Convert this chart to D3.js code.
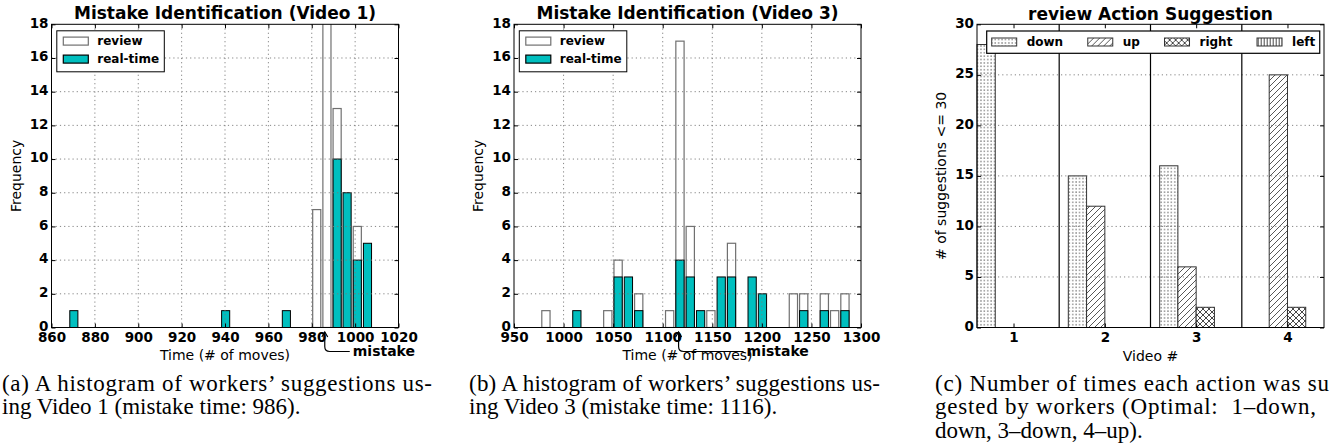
<!DOCTYPE html>
<html>
<head>
<meta charset="utf-8">
<script src="https://cdn.jsdelivr.net/npm/d3@7"></script>
<style>
  html, body { margin: 0; padding: 0; background: #fff; }
  svg { display: block; }
</style>
</head>
<body>
<svg id="chart" width="1331" height="445"></svg>
<script>
// ---------------- DATA ----------------
// Panel (a): Video 1 histogram (bin centers, counts)
const v1Centers  = [870.3, 940.3, 968.3, 982.3, 987.0, 991.7, 996.3, 1001.0, 1005.7];
const v1Review   = [0, 0, 0, 7, 21, 13, 0, 6, 0];
const v1Realtime = [1, 1, 1, 0, 0, 10, 8, 4, 5];
const v1Range    = [868, 1008];   // histogram data range (30 bins)
const v1Mistake  = 986;
const v1XTicks   = [860, 880, 900, 920, 940, 960, 980, 1000, 1020];
const v1YTicks   = [0, 2, 4, 6, 8, 10, 12, 14, 16, 18];

// Panel (b): Video 3 histogram
const v3Centers  = [982.2, 1013.4, 1044.6, 1055.0, 1065.4, 1075.8, 1107.0, 1117.4, 1127.8, 1138.2,
                    1148.6, 1159.0, 1169.4, 1190.2, 1200.6, 1231.8, 1242.2, 1263.0, 1273.4, 1283.8];
const v3Review   = [1, 0, 1, 4, 0, 2, 1, 17, 6, 0, 1, 0, 5, 0, 0, 2, 2, 2, 1, 2];
const v3Realtime = [0, 1, 0, 3, 3, 1, 0, 4, 3, 1, 0, 3, 3, 3, 2, 0, 1, 1, 0, 1];
const v3Range    = [977, 1289];
const v3Mistake  = 1116;
const v3XTicks   = [950, 1000, 1050, 1100, 1150, 1200, 1250, 1300];
const v3YTicks   = [0, 2, 4, 6, 8, 10, 12, 14, 16, 18];
const binCount   = 30;

// Panel (c): review action suggestions
const videos      = [1, 2, 3, 4];
const actions     = ["down", "up", "right", "left"];
const downCounts  = [28, 15, 16, 0];
const upCounts    = [0, 12, 6, 25];
const rightCounts = [0, 0, 2, 2];
const leftCounts  = [0, 0, 0, 0];
const cYTicks     = [0, 5, 10, 15, 20, 25, 30];

const histLegend  = ["review", "real-time"];

// ---------------- DRAWING ----------------
const svg = d3.select("#chart");
const FONT = "DejaVu Sans, sans-serif";
const CYAN = "#00bfbf";

const defs = svg.append("defs");
// hatch patterns
const pDots = defs.append("pattern").attr("id", "hDots").attr("patternUnits", "userSpaceOnUse")
  .attr("width", 3.4).attr("height", 3.4);
pDots.append("rect").attr("width", 3.4).attr("height", 3.4).attr("fill", "#fff");
pDots.append("rect").attr("x", 1.2).attr("y", 1.2).attr("width", 1.1).attr("height", 1.1).attr("fill", "#333");

const pDiag = defs.append("pattern").attr("id", "hDiag").attr("patternUnits", "userSpaceOnUse")
  .attr("width", 6).attr("height", 6);
pDiag.append("rect").attr("width", 6).attr("height", 6).attr("fill", "#fff");
pDiag.append("path").attr("d", "M0,6 L6,0 M-1.5,1.5 L1.5,-1.5 M4.5,7.5 L7.5,4.5")
  .attr("stroke", "#444").attr("stroke-width", 0.9);

const pCross = defs.append("pattern").attr("id", "hCross").attr("patternUnits", "userSpaceOnUse")
  .attr("width", 6).attr("height", 6);
pCross.append("rect").attr("width", 6).attr("height", 6).attr("fill", "#fff");
pCross.append("path").attr("d", "M0,6 L6,0 M-1.5,1.5 L1.5,-1.5 M4.5,7.5 L7.5,4.5 M0,0 L6,6 M-1.5,4.5 L1.5,7.5 M4.5,-1.5 L7.5,1.5")
  .attr("stroke", "#333").attr("stroke-width", 0.9);

const pVert = defs.append("pattern").attr("id", "hVert").attr("patternUnits", "userSpaceOnUse")
  .attr("width", 3).attr("height", 3);
pVert.append("rect").attr("width", 3).attr("height", 3).attr("fill", "#fff");
pVert.append("path").attr("d", "M1.5,0 L1.5,3").attr("stroke", "#333").attr("stroke-width", 0.9);

const hatchFor = { down: "url(#hDots)", up: "url(#hDiag)", right: "url(#hCross)", left: "url(#hVert)" };

function frameAndAxes(g, x, y, xTicks, yTicks, box, opts) {
  const { L, R, T, B } = box;
  // bottom axis
  const ax = g.append("g").attr("transform", `translate(0,${B})`)
    .call(d3.axisBottom(x).tickValues(xTicks).tickSize(-4).tickSizeOuter(0).tickPadding(5)
      .tickFormat(opts.xFormat || d3.format("d")));
  ax.select(".domain").remove();
  ax.selectAll("text").attr("font-family", FONT).attr("font-weight", "bold").attr("font-size", 13.5).attr("fill", "#000");
  ax.selectAll("line").attr("stroke", "#000");
  const at = g.append("g").attr("transform", `translate(0,${T})`)
    .call(d3.axisTop(x).tickValues(xTicks).tickSize(-4).tickSizeOuter(0).tickFormat(""));
  at.select(".domain").remove();
  at.selectAll("line").attr("stroke", "#000");
  // left axis
  const ay = g.append("g").attr("transform", `translate(${L},0)`)
    .call(d3.axisLeft(y).tickValues(yTicks).tickSize(-4).tickSizeOuter(0).tickPadding(3).tickFormat(d3.format("d")));
  ay.select(".domain").remove();
  ay.selectAll("text").attr("font-family", FONT).attr("font-weight", "bold").attr("font-size", 13.5)
    .attr("fill", "#000").attr("dy", "0.2em");
  ay.selectAll("line").attr("stroke", "#000");
  const ar = g.append("g").attr("transform", `translate(${R},0)`)
    .call(d3.axisRight(y).tickValues(yTicks).tickSize(-4).tickSizeOuter(0).tickFormat(""));
  ar.select(".domain").remove();
  ar.selectAll("line").attr("stroke", "#000");
  // frame
  g.append("rect").attr("x", L).attr("y", T).attr("width", R - L).attr("height", B - T)
    .attr("fill", "none").attr("stroke", "#000").attr("stroke-width", 1);
}

function grid(g, x, y, xTicks, yTicks, box, vertical) {
  const { L, R, T, B } = box;
  const gg = g.append("g").attr("stroke", "#777").attr("stroke-width", 0.9).attr("stroke-dasharray", "1.2,3");
  yTicks.filter(v => v > y.domain()[0] && v < y.domain()[1]).forEach(v => {
    gg.append("line").attr("x1", L).attr("x2", R).attr("y1", y(v)).attr("y2", y(v));
  });
  if (vertical) {
    xTicks.filter(v => v > x.domain()[0] && v < x.domain()[1]).forEach(v => {
      gg.append("line").attr("x1", x(v)).attr("x2", x(v)).attr("y1", T).attr("y2", B);
    });
  }
}

function histPanel(id, box, centers, review, realtime, range, xTicks, yTicks, title, mistake, textOffset) {
  const { L, R, T, B } = box;
  const g = svg.append("g");
  const x = d3.scaleLinear().domain([xTicks[0], xTicks[xTicks.length - 1]]).range([L, R]);
  const y = d3.scaleLinear().domain([0, yTicks[yTicks.length - 1]]).range([B, T]);
  const binW = (range[1] - range[0]) / binCount;
  const barW = binW * 0.8;

  defs.append("clipPath").attr("id", "clip" + id).append("rect")
    .attr("x", L).attr("y", T).attr("width", R - L).attr("height", B - T);
  const bars = g.append("g").attr("clip-path", `url(#clip${id})`);

  const rev = centers.map((c, i) => ({ c, v: review[i] })).filter(d => d.v > 0);
  bars.selectAll("rect.rev").data(rev).enter().append("rect")
    .attr("x", d => x(d.c - barW / 2)).attr("width", d => x(d.c + barW / 2) - x(d.c - barW / 2))
    .attr("y", d => y(d.v)).attr("height", d => y(0) - y(d.v))
    .attr("fill", "#fff").attr("stroke", "#707070").attr("stroke-width", 1.2);
  const rt = centers.map((c, i) => ({ c, v: realtime[i] })).filter(d => d.v > 0);
  bars.selectAll("rect.rt").data(rt).enter().append("rect")
    .attr("x", d => x(d.c - barW / 2)).attr("width", d => x(d.c + barW / 2) - x(d.c - barW / 2))
    .attr("y", d => y(d.v)).attr("height", d => y(0) - y(d.v))
    .attr("fill", CYAN).attr("stroke", "#000").attr("stroke-width", 1);

  grid(g, x, y, xTicks, yTicks, box, true);
  frameAndAxes(g, x, y, xTicks, yTicks, box, {});

  // title
  g.append("text").attr("x", (L + R) / 2).attr("y", 19).attr("text-anchor", "middle")
    .attr("font-family", FONT).attr("font-weight", "bold").attr("font-size", 17).text(title);
  // axis labels
  g.append("text").attr("x", (L + R) / 2).attr("y", 359.5).attr("text-anchor", "middle")
    .attr("font-family", FONT).attr("font-size", 14).text("Time (# of moves)");
  g.append("text").attr("transform", `translate(${L - 31},${(T + B) / 2}) rotate(-90)`)
    .attr("text-anchor", "middle").attr("font-family", FONT).attr("font-size", 14).text("Frequency");

  // legend
  const lg = g.append("g").attr("transform", `translate(${L + 5.3},${T + 6.5})`);
  lg.append("rect").attr("width", 107.5).attr("height", 41).attr("fill", "#fff").attr("stroke", "#000").attr("stroke-width", 1);
  histLegend.forEach((name, i) => {
    lg.append("rect").attr("x", 6.5).attr("y", 6.3 + i * 18).attr("width", 25).attr("height", 8)
      .attr("fill", i === 0 ? "#fff" : CYAN).attr("stroke", i === 0 ? "#707070" : "#000").attr("stroke-width", 1.2);
    lg.append("text").attr("x", 40.5).attr("y", 14.6 + i * 18).attr("font-family", FONT)
      .attr("font-weight", "bold").attr("font-size", 12).text(name);
  });

  // mistake annotation
  const mx = x(mistake), tipY = B + 4.5, lineY = 351.5, r = 5;
  const textX = mx + textOffset;
  g.append("path")
    .attr("d", `M${textX - 3},${lineY} L${mx + r},${lineY} Q${mx},${lineY} ${mx},${lineY - r} L${mx},${tipY}`)
    .attr("fill", "none").attr("stroke", "#000").attr("stroke-width", 1.2);
  g.append("path").attr("d", `M${mx - 3},${tipY + 5} L${mx},${tipY} L${mx + 3},${tipY + 5}`)
    .attr("fill", "none").attr("stroke", "#000").attr("stroke-width", 1.2);
  g.append("text").attr("x", textX).attr("y", 355.7).attr("font-family", FONT)
    .attr("font-weight", "bold").attr("font-size", 14).text("mistake");
}

histPanel("a", { L: 51.5, R: 398.5, T: 24.3, B: 327.5 }, v1Centers, v1Review, v1Realtime, v1Range,
  v1XTicks, v1YTicks, "Mistake Identification (Video 1)", v1Mistake, 28);
histPanel("b", { L: 514, R: 861, T: 24.3, B: 327.5 }, v3Centers, v3Review, v3Realtime, v3Range,
  v3XTicks, v3YTicks, "Mistake Identification (Video 3)", v3Mistake, 68);

// ---------- Panel (c) ----------
(function () {
  const box = { L: 977, R: 1324, T: 24.3, B: 327.5 };
  const { L, R, T, B } = box;
  const g = svg.append("g");
  const x = d3.scaleLinear().domain([videos[0] - 0.4, videos[videos.length - 1] + 0.4]).range([L, R]);
  const y = d3.scaleLinear().domain([0, cYTicks[cYTicks.length - 1]]).range([B, T]);
  const series = { down: downCounts, up: upCounts, right: rightCounts, left: leftCounts };
  const barW = 0.2;
  const data = [];
  actions.forEach((a, ai) => videos.forEach((v, vi) => {
    if (series[a][vi] > 0) data.push({ a, x0: v - 0.4 + ai * barW, val: series[a][vi] });
  }));
  g.selectAll("rect.bar").data(data).enter().append("rect")
    .attr("x", d => x(d.x0)).attr("width", d => x(d.x0 + barW) - x(d.x0))
    .attr("y", d => y(d.val)).attr("height", d => y(0) - y(d.val))
    .attr("fill", d => hatchFor[d.a]).attr("stroke", "#333").attr("stroke-width", 1);

  grid(g, x, y, videos, cYTicks, box, false);
  // separators between videos
  videos.slice(0, -1).forEach(v => {
    g.append("line").attr("x1", x(v + 0.5)).attr("x2", x(v + 0.5)).attr("y1", T).attr("y2", B)
      .attr("stroke", "#000").attr("stroke-width", 1.2);
  });
  frameAndAxes(g, x, y, videos, cYTicks, box, {});

  g.append("text").attr("x", (L + R) / 2).attr("y", 19.5).attr("text-anchor", "middle")
    .attr("font-family", FONT).attr("font-weight", "bold").attr("font-size", 17).text("review Action Suggestion");
  g.append("text").attr("x", (L + R) / 2).attr("y", 361).attr("text-anchor", "middle")
    .attr("font-family", FONT).attr("font-size", 14).text("Video #");
  g.append("text").attr("transform", `translate(${L - 31.5},${(T + B) / 2}) rotate(-90)`)
    .attr("text-anchor", "middle").attr("font-family", FONT).attr("font-size", 14).text("# of suggestions <= 30");

  // legend
  const lg = g.append("g").attr("transform", `translate(${L + 9.7},${T + 6.7})`);
  const box2 = lg.append("rect").attr("height", 22.3).attr("fill", "#fff").attr("stroke", "#000").attr("stroke-width", 1.2);
  let cx = 5;
  actions.forEach(a => {
    lg.append("rect").attr("x", cx).attr("y", 7).attr("width", 25).attr("height", 8)
      .attr("fill", hatchFor[a]).attr("stroke", "#333").attr("stroke-width", 1);
    const t = lg.append("text").attr("x", cx + 35).attr("y", 15.3).attr("font-family", FONT)
      .attr("font-weight", "bold").attr("font-size", 12).text(a);
    const w = t.node().getComputedTextLength();
    cx = cx + 35 + w + 24.6;
  });
  box2.attr("width", cx - 24.6 + 4.5);
})();

// ---------- Captions ----------
const captions = [
  { x: 2, lines: ["(a) A histogram of workers’ suggestions us-", "ing Video 1 (mistake time: 986)."], w: [430, null] },
  { x: 469, lines: ["(b) A histogram of workers’ suggestions us-", "ing Video 3 (mistake time: 1116)."], w: [411, null] },
  { x: 935, lines: ["(c) Number of times each action was su", "gested by workers (Optimal:  1–down,", "down, 3–down, 4–up)."], w: [394, 381, null] }
];
captions.forEach(c => {
  const cg = svg.append("g").attr("transform", `translate(${c.x},0)`);
  c.lines.forEach((ln, i) => {
    const t = cg.append("text").attr("x", 0).attr("y", 390.5 + i * 23.5)
      .attr("font-family", "Liberation Serif, Times New Roman, serif").attr("font-size", 23).attr("fill", "#000")
      .attr("xml:space", "preserve").text(ln);
    if (c.w[i]) t.attr("textLength", c.w[i]).attr("lengthAdjust", "spacing");
  });
});
</script>
</body>
</html>
